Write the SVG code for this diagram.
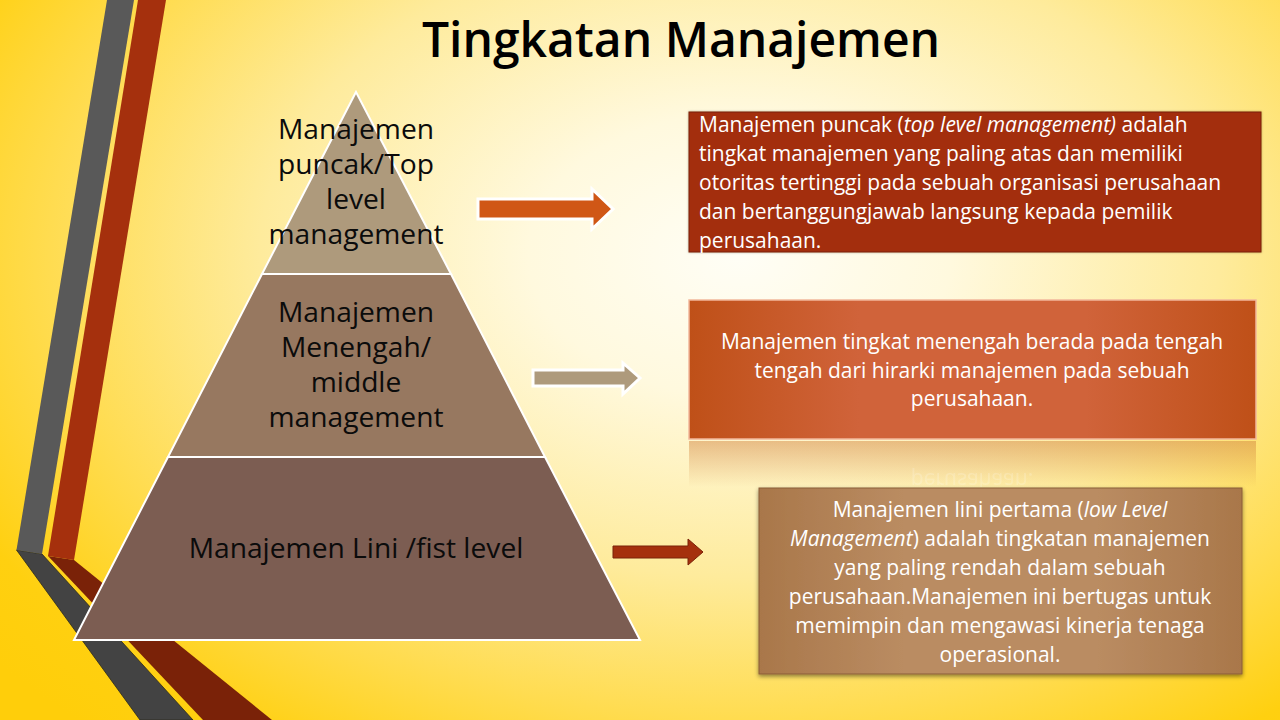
<svg xmlns="http://www.w3.org/2000/svg" width="1280" height="720" viewBox="0 0 1280 720">
<defs>
<radialGradient id="bg" gradientUnits="userSpaceOnUse" cx="0" cy="0" r="960" gradientTransform="translate(740 255) scale(1 0.67)">
<stop offset="0" stop-color="#fffef6"/><stop offset="0.22" stop-color="#fff9de"/><stop offset="0.5" stop-color="#feeb9c"/><stop offset="0.72" stop-color="#ffdc50"/><stop offset="0.9" stop-color="#ffd010"/><stop offset="1" stop-color="#ffce0a"/>
</radialGradient>
<linearGradient id="g2"><stop offset="0" stop-color="#bf5018"/><stop offset="0.3" stop-color="#d0633a"/><stop offset="0.7" stop-color="#d0633a"/><stop offset="1" stop-color="#bf5018"/></linearGradient>
<linearGradient id="g3"><stop offset="0" stop-color="#a9774a"/><stop offset="0.3" stop-color="#ba8c62"/><stop offset="0.7" stop-color="#ba8c62"/><stop offset="1" stop-color="#a9774a"/></linearGradient>
<linearGradient id="gr" x1="0" y1="0" x2="0" y2="1"><stop offset="0" stop-color="#d2843c" stop-opacity="0.5"/><stop offset="1" stop-color="#d2843c" stop-opacity="0"/></linearGradient>
<filter id="sh" x="-5%" y="-5%" width="110%" height="110%"><feDropShadow dx="0" dy="2" stdDeviation="2" flood-color="#000" flood-opacity="0.45"/></filter>
<filter id="glow" x="-5%" y="-5%" width="110%" height="110%"><feDropShadow dx="0" dy="0" stdDeviation="1" flood-color="#000" flood-opacity="0.3"/></filter>
<clipPath id="rc"><rect x="689" y="441" width="567" height="46"/></clipPath>
</defs>
<style>
text{font-family:"Open Sans","Noto Sans","Liberation Sans",sans-serif}
.p{font-size:28.2px;fill:#0b0b0b;text-anchor:middle}
.w{font-size:21px;fill:#fff}
.c{text-anchor:middle}
.tier{stroke:#fff;stroke-width:2}
.arrow{stroke:#fff;stroke-width:3}
</style>
<rect id="background" width="1280" height="720" fill="url(#bg)"/>
<g id="bands">
<polygon points="16.5,550 42,554 193,720 140,720" fill="#434343" stroke="#2b2a1c" stroke-width="0.8"/>
<polygon points="48,556 74,560 272,720 203,720" fill="#7a2208"/>
<polygon points="107,0 134,0 42,554 16.5,550" fill="#595959"/>
<polygon points="138,0 166,0 74,560 48,556" fill="#a5300d"/>
</g>
<text x="681" y="57" font-size="48" font-weight="600" text-anchor="middle" fill="#000">Tingkatan Manajemen</text>
<g id="pyramid-top">
<polygon class="tier" points="356,92 451,274 262,274" fill="#ae9a7c"/>
<text class="p" x="356" y="139">Manajemen</text>
<text class="p" x="356" y="174">puncak/Top</text>
<text class="p" x="356" y="209">level</text>
<text class="p" x="356" y="244">management</text>
</g>
<g id="pyramid-middle">
<polygon class="tier" points="262,274 451,274 545,457 168,457" fill="#977860"/>
<text class="p" x="356" y="322">Manajemen</text>
<text class="p" x="356" y="357">Menengah/</text>
<text class="p" x="356" y="392">middle</text>
<text class="p" x="356" y="427">management</text>
</g>
<g id="pyramid-bottom">
<polygon class="tier" points="168,457 545,457 640,640 74,640" fill="#7c5d52"/>
<text class="p" x="356" y="558">Manajemen Lini /fist level</text>
</g>
<g id="connectors">
<polygon class="arrow" points="478,199 592,199 592,189 613,209 592,229 592,219 478,219" fill="#d05716"/>
<polygon class="arrow" points="533,370 623,370 623,363 640,378 623,394 623,386 533,386" fill="#ae9a7c"/>
<polygon points="613,546 688,546 688,539 703,552 688,565 688,558 613,558" fill="#a5300d" stroke="#7a2208" stroke-width="1"/>
</g>
<g id="box-top">
<rect x="689" y="112" width="572" height="140" fill="#a32e0d" stroke="#7a2208" stroke-width="1" filter="url(#glow)"/>
<text class="w" x="699" y="132">Manajemen puncak (<tspan font-style="italic">top level management)</tspan> adalah</text>
<text class="w" x="699" y="161">tingkat manajemen yang paling atas dan memiliki</text>
<text class="w" x="699" y="190">otoritas tertinggi pada sebuah organisasi perusahaan</text>
<text class="w" x="699" y="219">dan bertanggungjawab langsung kepada pemilik</text>
<text class="w" x="699" y="248">perusahaan.</text>
</g>
<g id="box-middle">
<rect x="689" y="441" width="567" height="46" fill="url(#gr)"/>
<g clip-path="url(#rc)"><text class="w c" x="972" y="-473" transform="scale(1 -1)" opacity="0.18">perusahaan.</text></g>
<rect x="689" y="300" width="567" height="139" fill="url(#g2)" stroke="#f2b89c" stroke-width="1.5"/>
<text class="w c" x="972" y="349">Manajemen tingkat menengah berada pada tengah</text>
<text class="w c" x="972" y="378">tengah dari hirarki manajemen pada sebuah</text>
<text class="w c" x="972" y="406">perusahaan.</text>
</g>
<g id="box-bottom">
<rect x="759" y="488" width="483" height="186" fill="url(#g3)" stroke="#8a5f38" stroke-width="1" filter="url(#sh)"/>
<text class="w c" x="1000" y="517">Manajemen lini pertama (<tspan font-style="italic">low Level</tspan></text>
<text class="w c" x="1000" y="546"><tspan font-style="italic">Management</tspan>) adalah tingkatan manajemen</text>
<text class="w c" x="1000" y="575">yang paling rendah dalam sebuah</text>
<text class="w c" x="1000" y="604">perusahaan.Manajemen ini bertugas untuk</text>
<text class="w c" x="1000" y="633">memimpin dan mengawasi kinerja tenaga</text>
<text class="w c" x="1000" y="662">operasional.</text>
</g>
</svg>
